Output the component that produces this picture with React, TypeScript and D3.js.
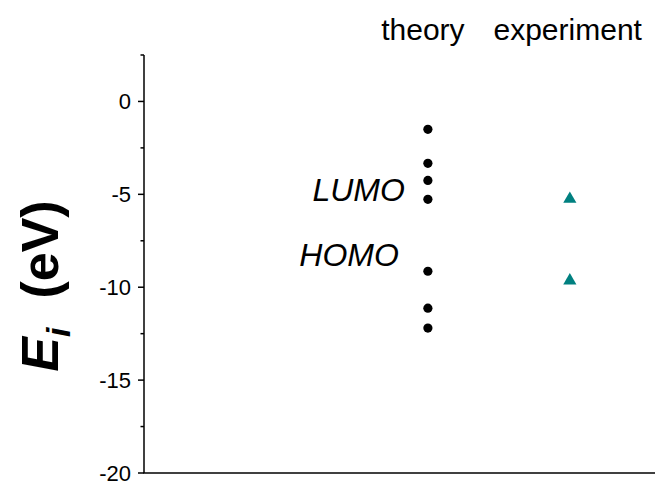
import React from "react";
import * as d3 from "d3";

const categories = ["theory", "experiment"];
const categoryCenters = [1.965, 2.985];
const theoryValues = [-1.5, -3.33, -4.25, -5.27, -9.14, -11.13, -12.2];
const experimentValues = [-5.25, -9.65];
const yTicks = [0, -5, -10, -15, -20];
const yMinorTicks = [2.5, -2.5, -7.5, -12.5, -17.5];
const levelLabels = [
  { text: "LUMO", value: -5.38, dx: -23 },
  { text: "HOMO", value: -8.88, dx: -29 },
];

const W = 656;
const H = 486;

export default function App() {
  const x = d3.scaleLinear().domain([0, 3.6]).range([144, 655]);
  const y = d3.scaleLinear().domain([-20, 2.5]).range([473, 55]);
  const tri = d3.symbol().type(d3.symbolTriangle).size(75)();
  const font = "Arial, 'Liberation Sans', sans-serif";
  return (
    <svg width={W} height={H} style={{ position: "absolute", left: 0, top: 0 }} fontFamily={font}>
      <rect width={W} height={H} fill="white" />
      {/* axes */}
      <line x1={144} x2={144} y1={y(2.5)} y2={y(-20)} stroke="black" strokeWidth={1.5} />
      <line x1={143.25} x2={655} y1={y(-20)} y2={y(-20)} stroke="black" strokeWidth={1.5} />
      {yTicks.map((t) => (
        <g key={t}>
          <line x1={138} x2={144} y1={y(t)} y2={y(t)} stroke="black" strokeWidth={1.5} />
          <text x={131} y={y(t)} dy="0.36em" textAnchor="end" fontSize={22}>
            {t}
          </text>
        </g>
      ))}
      {yMinorTicks.map((t) => (
        <line key={t} x1={140.5} x2={144} y1={y(t)} y2={y(t)} stroke="black" strokeWidth={1.5} />
      ))}
      {/* category titles */}
      {categories.map((c, i) => (
        <text key={c} x={x(categoryCenters[i])} y={40} textAnchor="middle" fontSize={30}>
          {c}
        </text>
      ))}
      {/* theory points */}
      {theoryValues.map((v, i) => (
        <circle key={i} cx={x(2)} cy={y(v)} r={4.6} fill="black" />
      ))}
      {/* experiment points */}
      {experimentValues.map((v, i) => (
        <path key={i} d={tri!} transform={`translate(${x(3)},${y(v)})`} fill="#008080" />
      ))}
      {/* level labels */}
      {levelLabels.map((l) => (
        <text key={l.text} x={x(2) + l.dx} y={y(l.value)} textAnchor="end" fontSize={32} fontStyle="italic">
          {l.text}
        </text>
      ))}
      {/* y axis label */}
      <text
        transform={`translate(58,${286}) rotate(-90)`}
        textAnchor="middle"
        fontSize={52}
        fontWeight="bold"
      >
        <tspan fontStyle="italic">E</tspan>
        <tspan fontStyle="italic" fontSize={34} dy={12}>i</tspan>
        <tspan dy={-12}>{"\u00a0\u00a0(eV)"}</tspan>
      </text>
    </svg>
  );
}
